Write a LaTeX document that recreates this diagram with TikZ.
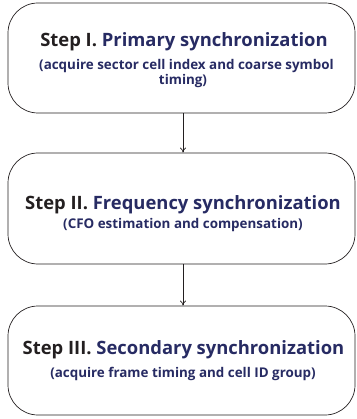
\documentclass[tikz,border=0pt]{standalone}
\usepackage{fontspec}
\setmainfont{Open Sans}
\usetikzlibrary{arrows.meta}
\definecolor{navy}{HTML}{272B63}
\definecolor{ink}{HTML}{231F20}
\begin{document}
\begin{tikzpicture}[x=1pt,y=1pt,
  stepbox/.style={draw=ink,line width=0.7pt,rounded corners=30pt,minimum width=347pt,inner sep=0pt},
  ttl/.style={anchor=base,font=\bfseries\fontsize{18.4}{21}\selectfont,text=navy,inner sep=0pt},
  sub/.style={anchor=base,font=\bfseries\fontsize{13.4}{16}\selectfont,text=navy,inner sep=0pt},
  conn/.style={draw=ink,line width=0.6pt,-{To[length=5pt,width=6pt]}}]
\useasboundingbox (0,0) rectangle (356,-419);
\node[stepbox,minimum height=110pt] (b1) at (181.5,-58) {};
\node[stepbox,minimum height=111pt] (b2) at (181.5,-208.5) {};
\node[stepbox,minimum height=109pt] (b3) at (181.5,-360.5) {};
\node[ttl] (t1) at (184,-47) {\textcolor{ink}{Step I.} Primary synchronization};
\node[sub] (s1a) at (186.5,-70) {(acquire sector cell index and coarse symbol};
\node[sub] (s1b) at (183,-85) {timing)};
\node[ttl] (t2) at (183,-210) {\textcolor{ink}{Step II.} Frequency synchronization};
\node[sub] (s2) at (183,-228) {(CFO estimation and compensation)};
\node[ttl] (t3) at (183.5,-354) {\textcolor{ink}{Step III.} Secondary synchronization};
\node[sub] (s3) at (183,-377) {(acquire frame timing and cell ID group)};
\draw[conn] ([xshift=1.5pt]b1.south) -- ([xshift=1.5pt]b2.north);
\draw[conn] ([xshift=1.5pt]b2.south) -- ([xshift=1.5pt]b3.north);
\end{tikzpicture}
\end{document}
